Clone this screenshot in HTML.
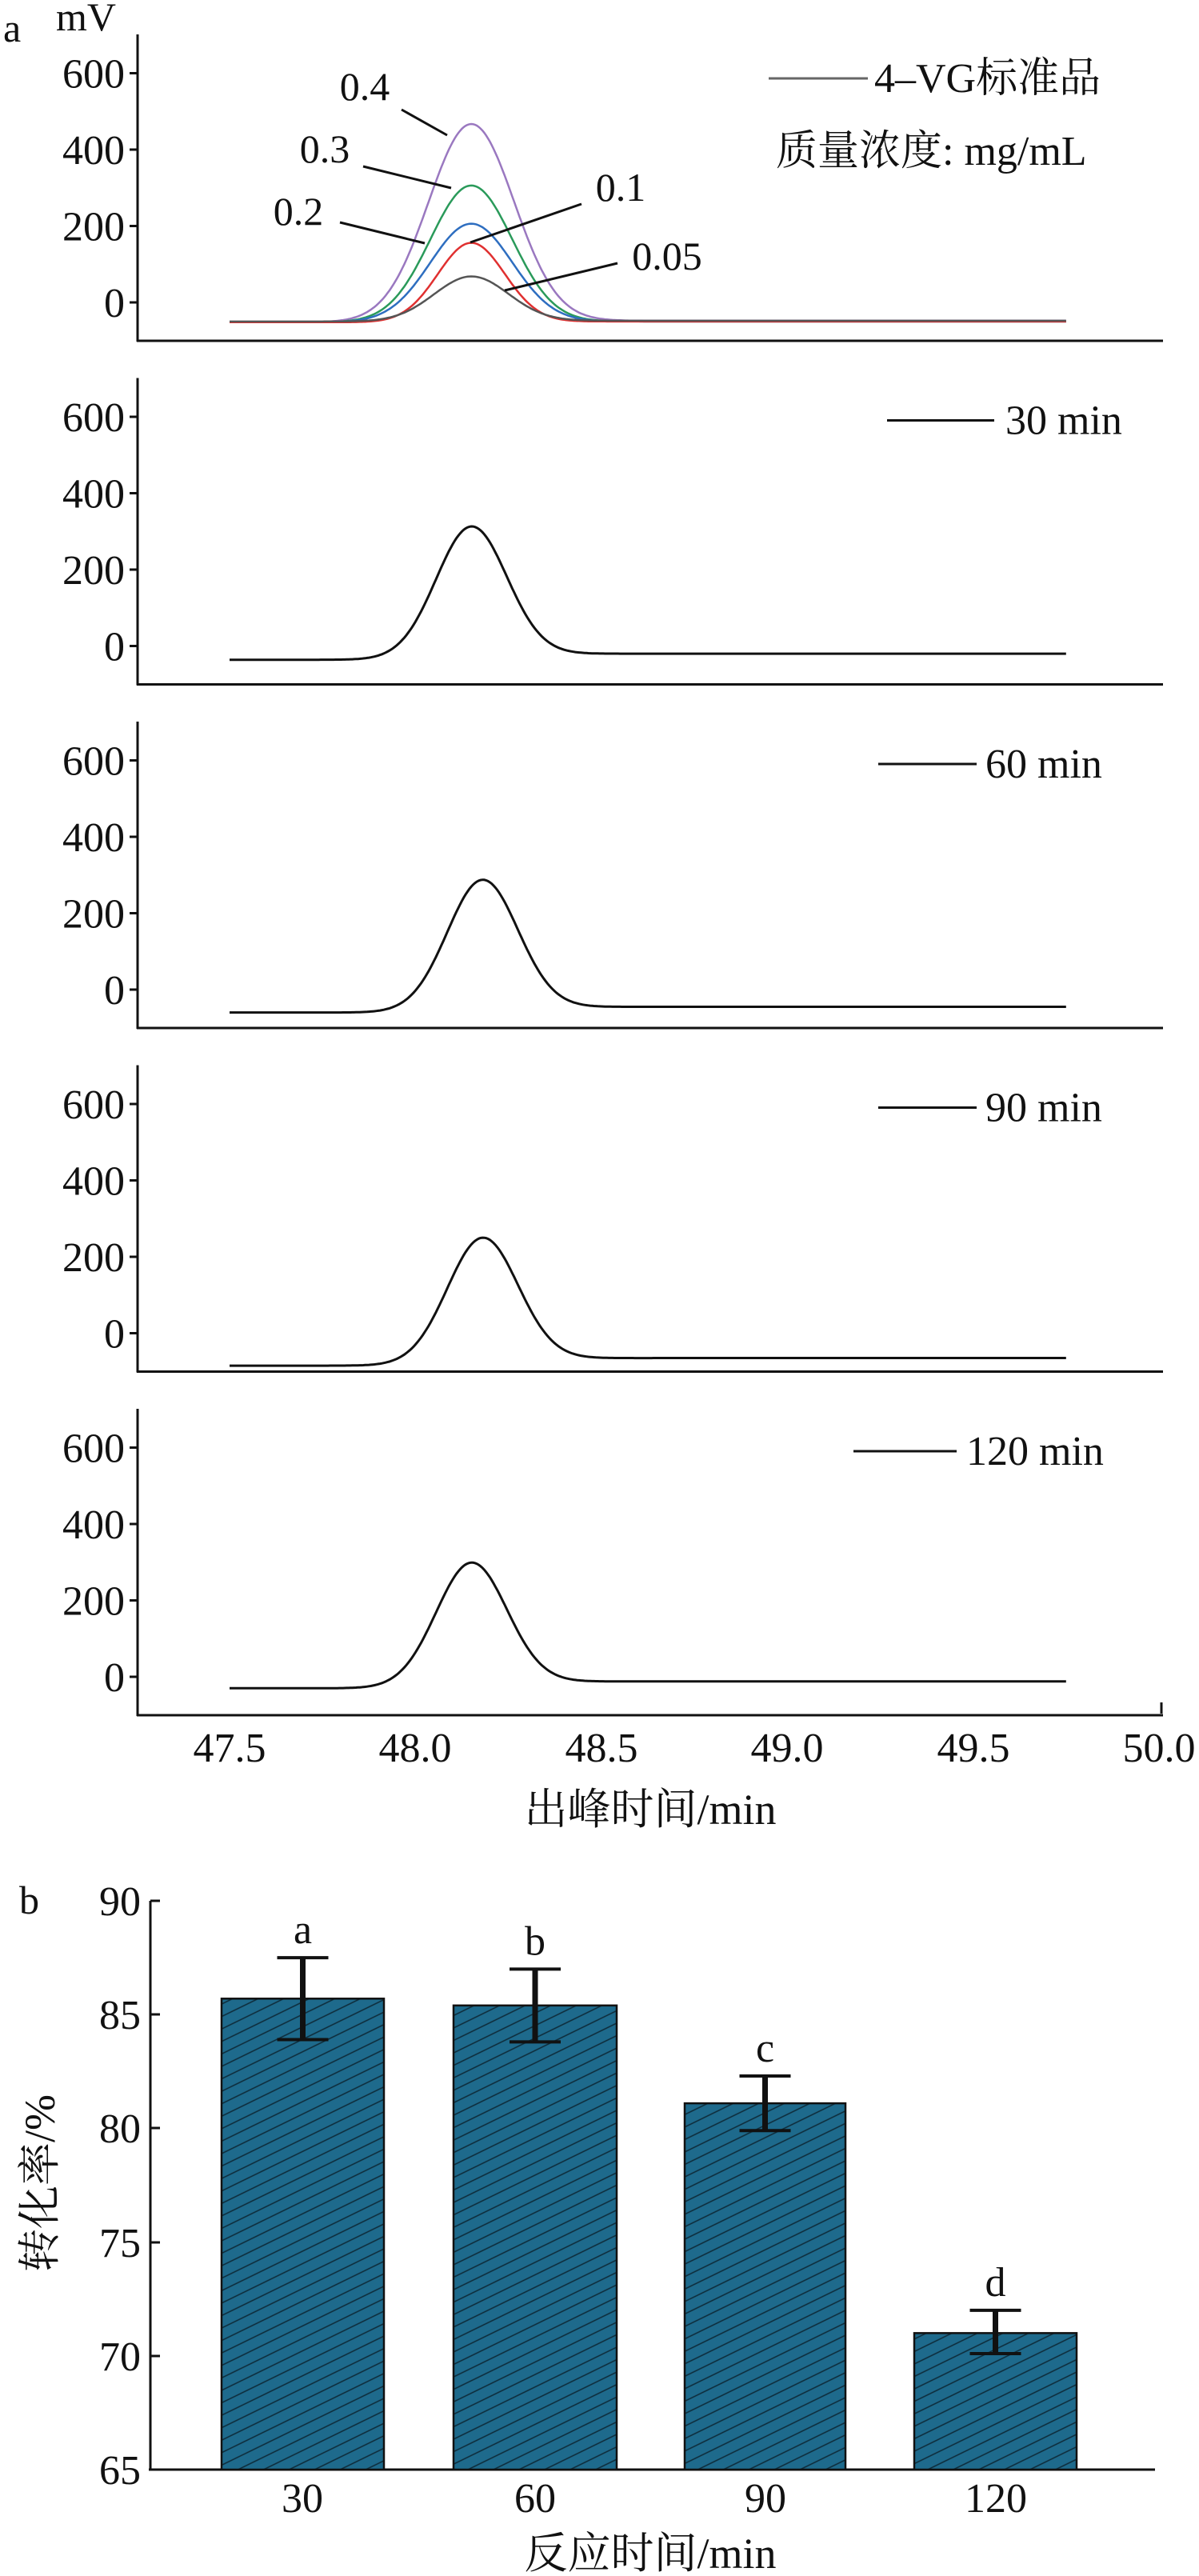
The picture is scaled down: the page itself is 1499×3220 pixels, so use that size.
<!DOCTYPE html>
<html><head><meta charset="utf-8"><style>
html,body{margin:0;padding:0;background:#fff;}
svg{display:block;}
text{font-family:"Liberation Serif","Noto Serif CJK SC",serif;fill:#111;}
</style></head><body>
<svg id="s" width="1499" height="3220" viewBox="0 0 1499 3220" xmlns="http://www.w3.org/2000/svg">
<defs>
<pattern id="h" patternUnits="userSpaceOnUse" width="40" height="14" patternTransform="rotate(-26)">
<rect width="40" height="14" fill="#1e6a8c"/>
<line x1="0" y1="7" x2="40" y2="7" stroke="#0d2a38" stroke-width="1.4"/>
</pattern>
</defs>
<g id="g"></g>
<text x="4" y="52" font-size="50">a</text>
<text x="70" y="38" font-size="50">mV</text>
<line x1="961" y1="98" x2="1085" y2="98" stroke="#666" stroke-width="3"/>
<text x="1093" y="115" font-size="52">4–VG标准品</text>
<text x="970" y="206" font-size="52">质量浓度: mg/mL</text>
<text x="456" y="125" font-size="50" text-anchor="middle">0.4</text>
<text x="406" y="203" font-size="50" text-anchor="middle">0.3</text>
<text x="373" y="281" font-size="50" text-anchor="middle">0.2</text>
<text x="776" y="251" font-size="50" text-anchor="middle">0.1</text>
<text x="834" y="337" font-size="50" text-anchor="middle">0.05</text>
<g stroke="#111" stroke-width="3">
<line x1="502" y1="137" x2="559" y2="169"/>
<line x1="454" y1="208" x2="564" y2="235"/>
<line x1="425" y1="278" x2="531" y2="304"/>
<line x1="727" y1="255" x2="588" y2="303"/>
<line x1="772" y1="329" x2="631" y2="363"/>
</g>
<g font-size="52" text-anchor="middle">
<text x="287" y="2202">47.5</text><text x="519" y="2202">48.0</text><text x="752" y="2202">48.5</text>
<text x="984" y="2202">49.0</text><text x="1217" y="2202">49.5</text><text x="1449" y="2202">50.0</text>
</g>
<text x="813" y="2280" font-size="54" text-anchor="middle">出峰时间/min</text>
<text x="24" y="2392" font-size="50">b</text>
<g font-size="52" text-anchor="end">
<text x="176" y="2394">90</text><text x="176" y="2536">85</text><text x="176" y="2678">80</text>
<text x="176" y="2821">75</text><text x="176" y="2963">70</text><text x="176" y="3105">65</text>
</g>
<g stroke="#111" stroke-width="3">
<line x1="188" y1="2376" x2="188" y2="3088"/>
<line x1="186" y1="3087" x2="1444" y2="3087"/>
<line x1="188" y1="2376" x2="200" y2="2376"/><line x1="188" y1="2518" x2="200" y2="2518"/>
<line x1="188" y1="2660" x2="200" y2="2660"/><line x1="188" y1="2803" x2="200" y2="2803"/>
<line x1="188" y1="2945" x2="200" y2="2945"/>
</g>
<g id="bars"></g>
<g font-size="52" text-anchor="middle">
<text x="378" y="3140">30</text><text x="669" y="3140">60</text><text x="957" y="3140">90</text><text x="1245" y="3140">120</text>
</g>
<text x="813" y="3210" font-size="54" text-anchor="middle">反应时间/min</text>
<text transform="translate(68,2729) rotate(-90)" font-size="54" text-anchor="middle">转化率/%</text>
</svg>
<script>
var NS="http://www.w3.org/2000/svg",g=document.getElementById('g');
function el(t,a,p){var e=document.createElementNS(NS,t);for(var k in a)e.setAttribute(k,a[k]);(p||g).appendChild(e);return e;}
function X(t){return 287+(t-47.5)*464.8;}
var labs=['0','200','400','600'];
for(var i=0;i<5;i++){
 var z=378+429.5*i;
 el('line',{x1:172,y1:z-335,x2:172,y2:z+49,stroke:'#111','stroke-width':3});
 el('line',{x1:171,y1:z+48,x2:1454,y2:z+48,stroke:'#111','stroke-width':3});
 for(var j=0;j<4;j++){var y=z-j*95.5;
  el('line',{x1:162,y1:y,x2:172,y2:y,stroke:'#111','stroke-width':3});
  var t=el('text',{x:156,y:y+18,'font-size':52,'text-anchor':'end'});t.textContent=labs[j];}
}
el('line',{x1:1452,y1:2142,x2:1452,y2:2128,stroke:'#111','stroke-width':3});
function curve(i,peak,amp,bl,br,col,sig,w){
 var z=378+429.5*i,d='';
 for(var t=47.5;t<=49.751;t+=0.005){
  var f=1/(1+Math.exp(-(t-peak)/0.07));
  var b=bl+(br-bl)*f;
  var v=b+(amp-bl)*Math.exp(-Math.pow(t-peak,2)/(2*sig*sig));
  d+=(d?'L':'M')+X(t).toFixed(1)+','+(z-v*0.4775).toFixed(1);}
 el('path',{d:d,fill:'none',stroke:col,'stroke-width':w});
}
curve(0,48.15,465,-52,-48,'#9a78c0',0.115,2.5);
curve(0,48.15,305,-52,-50,'#2a9a5a',0.11,2.5);
curve(0,48.15,205,-52,-50,'#2e6ec0',0.11,2.5);
curve(0,48.15,155,-52,-50,'#e03030',0.09,2.5);
curve(0,48.15,67,-50,-48,'#555',0.1,2.5);
curve(1,48.15,305,-36,-20,'#111',0.095,3);
curve(2,48.18,280,-60,-45,'#111',0.095,3);
curve(3,48.18,240,-85,-65,'#111',0.095,3);
curve(4,48.15,290,-30,-12,'#111',0.095,3);
var leg=[[1109,1243,1257,'30 min'],[1098,1221,1232,'60 min'],[1098,1221,1232,'90 min'],[1067,1196,1208,'120 min']];
for(var i=0;i<4;i++){var y=378+429.5*(i+1)-282;
 el('line',{x1:leg[i][0],y1:y,x2:leg[i][1],y2:y,stroke:'#111','stroke-width':3});
 var t=el('text',{x:leg[i][2],y:y+17,'font-size':52});t.textContent=leg[i][3];}
var bg=document.getElementById('bars');
function Y(v){return 3087-(v-65)*28.44;}
var B=[[277,480,85.7,87.5,83.9,'a'],[567,771,85.4,87.0,83.8,'b'],[856,1057,81.1,82.3,79.9,'c'],[1143,1346,71.0,72.0,70.1,'d']];
B.forEach(function(b){
 el('rect',{x:b[0],y:Y(b[2]),width:b[1]-b[0],height:3087-Y(b[2]),fill:'url(#h)',stroke:'#111','stroke-width':2.5},bg);
 var c=(b[0]+b[1])/2;
 el('line',{x1:c,y1:Y(b[3]),x2:c,y2:Y(b[4]),stroke:'#111','stroke-width':7},bg);
 el('line',{x1:c-32,y1:Y(b[3]),x2:c+32,y2:Y(b[3]),stroke:'#111','stroke-width':4},bg);
 el('line',{x1:c-32,y1:Y(b[4]),x2:c+32,y2:Y(b[4]),stroke:'#111','stroke-width':4},bg);
 var t=el('text',{x:c,y:Y(b[3])-18,'font-size':52,'text-anchor':'middle'},bg);t.textContent=b[5];
});
</script>
</body></html>
